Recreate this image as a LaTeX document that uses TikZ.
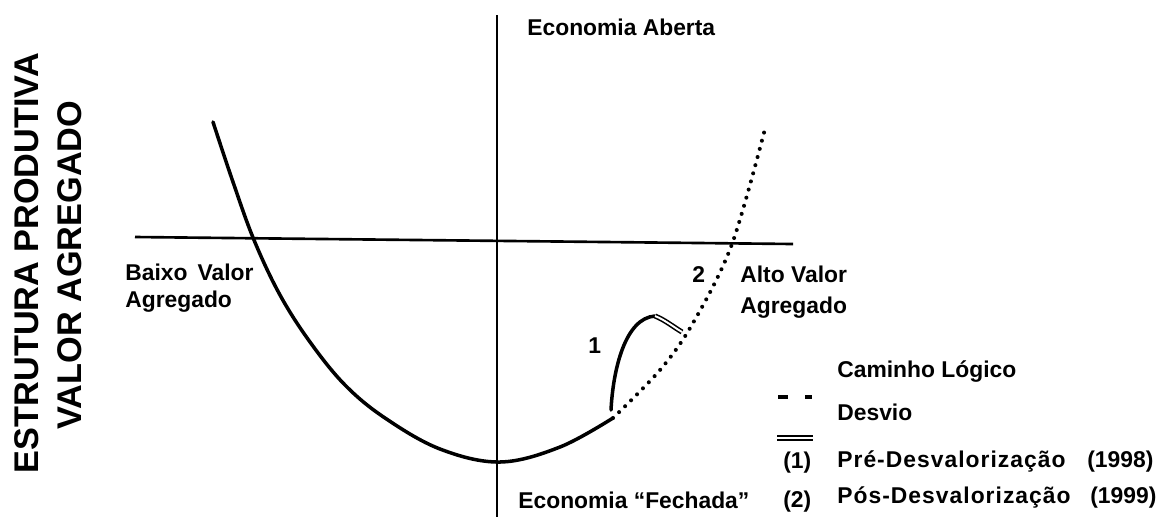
\documentclass[tikz,border=0pt]{standalone}
\usepackage{fontspec}
\setmainfont{Liberation Sans}
\usetikzlibrary{calc}

\tikzset{
  lbl/.style={anchor=base west,inner sep=0pt,font=\fontsize{13}{15}\selectfont\bfseries},
  widelbl/.style={lbl,font=\fontsize{13}{15}\selectfont\bfseries\addfontfeature{LetterSpace=4.5}},
  title/.style={rotate=90,inner sep=0pt,font=\fontsize{19.5}{22}\selectfont\bfseries},
  axis/.style={line width=1.5pt},
  solidpath/.style={line width=2pt,line cap=round},
  dotpath/.style={line width=2.3pt,line cap=round,dash pattern=on 0pt off 4.8pt},
  pre/.style={double,double distance=1.1pt,line width=0.9pt}
}

\begin{document}
\begin{tikzpicture}[x=0.02cm,y=-0.02cm]
\useasboundingbox (0,0) rectangle (1165,522);
% eixos
\draw[axis] (497,15) -- (497,517);
\draw[axis] (135,237) -- (793,244);
% caminho
\draw[solidpath] plot[smooth,tension=0.6] coordinates {(213,122) (233,182) (254,240) (280,295) (310,342) (345,385) (385,418) (440,449) (500,462) (560,447) (613,418)};
\draw[dotpath] plot[smooth,tension=0.55] coordinates {(613,418) (660,370) (693,323) (732,244) (766,125)};
% desvio 1
\draw[solidpath] (611,410) .. controls (613,370) and (625,318) .. (655,316);
\draw[pre] (655,316) .. controls (665,320) and (672,326) .. (682,332);
% textos
\node[lbl] (aberta) at (527,35) {Economia Aberta};
\node[lbl] (fechada) at (518,508) {Economia ``Fechada''};
\node[lbl] (baixo) at (125,280) {Baixo\, Valor};
\node[lbl] (baixoag) at (125,307) {Agregado};
\node[lbl] (alto) at (740,282) {Alto Valor};
\node[lbl] (altoag) at (740,313) {Agregado};
\node[lbl] (dois) at (692,282) {2};
\node[lbl] (um) at (588,353) {1};
\node[title] (estrutura) at (27,263) {ESTRUTURA PRODUTIVA};
\node[title] (valor) at (70,265) {VALOR AGREGADO};
% legenda
\node[lbl] (caminho) at (837,377) {Caminho Lógico};
\draw[line width=2pt] (778,397) -- (788,397);
\draw[line width=2pt] (805,397) -- (812,397);
\node[lbl] (desvio) at (837,420) {Desvio};
\draw[pre] (777,438) -- (813,438);
\node[lbl] (n1) at (783,468) {(1)};
\node[widelbl] (pre) at (837,467) {Pré-Desvalorização};
\node[lbl] (ano1) at (1087,467) {(1998)};
\node[lbl] (n2) at (783,507) {(2)};
\node[widelbl] (pos) at (837,503) {Pós-Desvalorização};
\node[lbl] (ano2) at (1090,503) {(1999)};
\end{tikzpicture}
\end{document}
